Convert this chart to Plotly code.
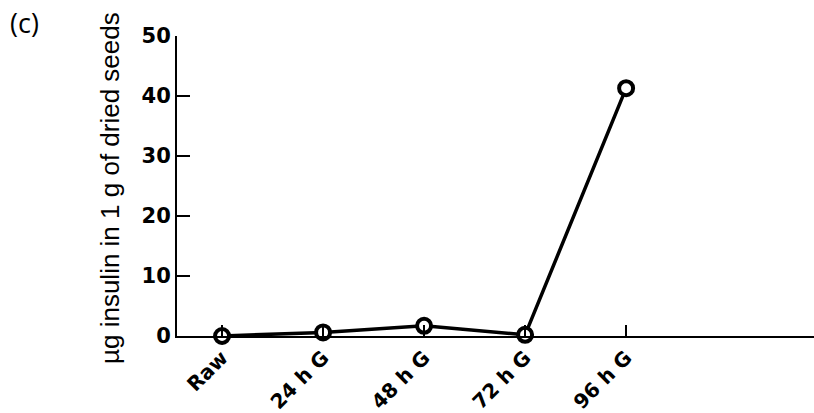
import plotly.graph_objects as go

categories = ["Raw", "24 h G", "48 h G", "72 h G", "96 h G"]
insulin = [0.0, 0.6, 1.7, 0.2, 41.3]
y_ticks = [0, 10, 20, 30, 40, 50]

fig = go.Figure()
fig.add_trace(go.Scatter(
    x=list(range(len(categories))), y=insulin,
    mode="lines+markers",
    line=dict(color="black", width=3.5),
    marker=dict(symbol="circle", size=14, color="white",
                line=dict(color="black", width=4)),
    cliponaxis=False, showlegend=False,
))

fig.update_layout(
    width=814, height=413,
    margin=dict(l=177, r=0, t=36, b=77),
    paper_bgcolor="white", plot_bgcolor="white",
    xaxis=dict(
        range=[-0.446, 5.86],
        tickmode="array", tickvals=list(range(len(categories))), ticktext=categories,
        tickangle=-45, ticks="inside", ticklen=11, tickwidth=1.5, tickcolor="black",
        showline=True, linecolor="black", linewidth=2, showgrid=False, zeroline=False,
        tickfont=dict(family="DejaVu Sans", size=20, color="black", weight="bold"),
    ),
    yaxis=dict(
        range=[0, 50], tickmode="array", tickvals=y_ticks,
        ticks="inside", ticklen=13, tickwidth=1.5, tickcolor="black",
        showline=True, linecolor="black", linewidth=2, showgrid=False, zeroline=False,
        tickfont=dict(family="DejaVu Sans", size=21, color="black", weight="bold"),
    ),
    annotations=[
        dict(text="µg insulin in 1 g of dried seeds", textangle=-90,
             xref="paper", yref="paper", x=(110 - 177) / 637, y=(336 - 188) / 300,
             xanchor="center", yanchor="middle", showarrow=False,
             font=dict(family="Liberation Sans", size=26, color="black")),
        dict(text="(c)", xref="paper", yref="paper",
             x=(8 - 177) / 637, y=(336 - 22) / 300,
             xanchor="left", yanchor="middle", showarrow=False,
             font=dict(family="Open Sans", size=27, color="black")),
    ],
)

fig.write_html("out.html")
